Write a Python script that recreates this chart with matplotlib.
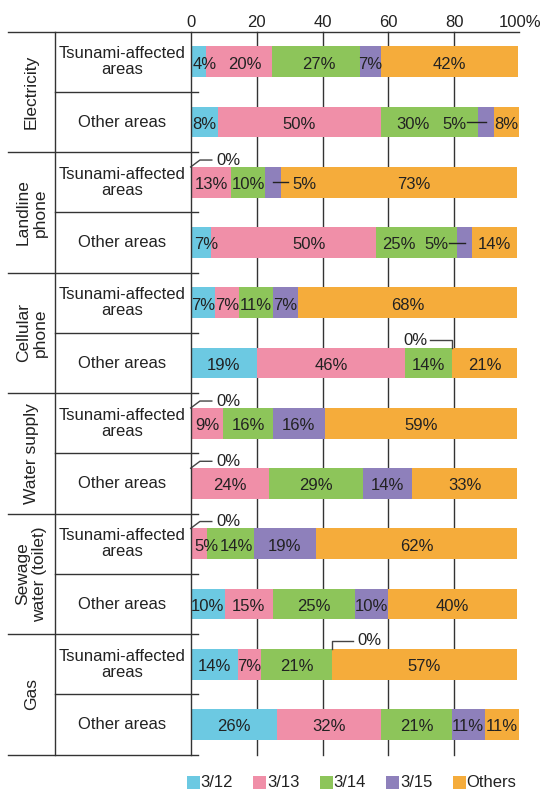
import matplotlib.pyplot as plt
import numpy as np
from matplotlib.patches import Rectangle

plt.rcParams['font.family'] = ['Liberation Sans', 'DejaVu Sans']

categories = ['Electricity', 'Landline\nphone', 'Cellular\nphone', 'Water supply', 'Sewage\nwater (toilet)', 'Gas']
areas = ['Tsunami-affected\nareas', 'Other areas']
series = ['3/12', '3/13', '3/14', '3/15', 'Others']

# segment widths (% of respondents), one row per bar
d312 = [4.5, 8.2, 0, 6.2, 7.4, 20.1, 0, 0, 0, 10.4, 14.3, 26.2]
d313 = [20.1, 49.5, 12.3, 50.0, 7.2, 44.9, 9.9, 23.7, 4.9, 14.5, 7.1, 31.7]
d314 = [26.7, 29.4, 10.2, 24.5, 10.3, 14.2, 15.0, 28.7, 14.3, 24.9, 21.4, 21.3]
d315 = [6.4, 4.8, 4.9, 4.8, 7.6, 0, 15.8, 14.7, 18.8, 10.0, 0, 10.0]
others = [41.6, 7.6, 71.7, 13.6, 66.6, 19.9, 58.4, 32.0, 61.1, 39.3, 56.3, 10.3]

# printed labels
l312 = [4, 8, 0, 7, 7, 19, 0, 0, 0, 10, 14, 26]
l313 = [20, 50, 13, 50, 7, 46, 9, 24, 5, 15, 7, 32]
l314 = [27, 30, 10, 25, 11, 14, 16, 29, 14, 25, 21, 21]
l315 = [7, 5, 5, 5, 7, 0, 16, 14, 19, 10, 0, 11]
lothers = [42, 8, 73, 14, 68, 21, 59, 33, 62, 40, 57, 11]

colors = ['#6cc9e2', '#f08fa8', '#8dc55a', '#8e80bb', '#f5ac3b']
txt = '#222222'
linec = '#333333'

vals = np.array([d312, d313, d314, d315, others])
labs = np.array([l312, l313, l314, l315, lothers])
n = vals.shape[1]
rows = np.arange(n)

W, H = 543, 791
fig = plt.figure(figsize=(W / 100, H / 100), dpi=100)
ax = fig.add_axes([190.7 / W, 1 - 754.7 / H, 329.5 / W, 723 / H])
ax.set_xlim(0, 100)
ax.set_ylim(n - 0.5, -0.5)
bh = 0.51

# grid lines behind bars
for g in [20, 40, 60, 80]:
    ax.plot([g, g], [-0.5, n - 0.5], color=linec, lw=1.0, zorder=1, clip_on=False)

left = np.zeros(n)
for j in range(5):
    ax.barh(rows, vals[j], left=left, height=bh, color=colors[j], lw=0, zorder=2)
    left += vals[j]
cum = np.vstack([np.zeros(n), np.cumsum(vals, axis=0)])

# label nudges (in %) where the original shifts labels off-center
nudge = {(0, 0): 2.1, (0, 1): 2.0, (0, 2): 0.8, (1, 2): -5.0, (2, 4): 4.5,
         (3, 0): 1.6, (3, 1): 4.8, (3, 2): -5.4, (8, 1): 2.4, (8, 2): 1.9}
# purple labels placed beside the bar: (offset of text centre, gap to line)
outside = {1: (-9.4, 3.8), 2: (9.5, 5.0), 3: (-8.5, 3.8)}

fs = 12
for i in range(n):
    for j in range(5):
        v = labs[j, i]
        if v == 0:
            continue
        cx = (cum[j, i] + cum[j + 1, i]) / 2
        if j == 3 and i in outside:
            off, gap = outside[i]
            tx = cx + off
            edge = tx - np.sign(off) * gap
            ax.plot([cx, edge], [i, i], color=txt, lw=1.0, zorder=3)
            ax.text(tx, i + 0.04, f'{v}%', ha='center', va='center', fontsize=fs, color=txt, zorder=4)
            continue
        cx += nudge.get((i, j), 0)
        ax.text(cx, i + 0.04, f'{v}%', ha='center', va='center', fontsize=fs, color=txt, zorder=4)

# leaders for 0% segments
lead = '#444444'
top = bh / 2
for i in range(n):
    if labs[0, i] == 0:
        ax.plot([0, 2.8, 6.4], [i - top, i - 0.37, i - 0.37], color=lead, lw=1.0, zorder=3, clip_on=False)
        ax.text(7.9, i - 0.37, '0%', ha='left', va='center', fontsize=fs, color=txt)
    if labs[3, i] == 0:
        x0 = cum[3, i]
        if i == 5:
            ax.plot([72.6, x0, x0], [i - 0.38, i - 0.38, i - top], color=lead, lw=1.0, zorder=3)
            ax.text(72.0, i - 0.38, '0%', ha='right', va='center', fontsize=fs, color=txt)
        else:
            ax.plot([x0, x0, x0 + 6.5], [i - top, i - 0.39, i - 0.39], color=lead, lw=1.0, zorder=3)
            ax.text(x0 + 7.7, i - 0.39, '0%', ha='left', va='center', fontsize=fs, color=txt)

# table lines on the left
xl, xm, xr = -55.4, -41.2, 2.1
ax.plot([xl, 99.5], [-0.5, -0.5], color=linec, lw=1.0, clip_on=False)
for k in range(len(categories)):
    yb = 2 * k + 1.5
    ax.plot([xl, xr], [yb, yb], color=linec, lw=1.0, clip_on=False)
    ax.plot([xm, xr], [2 * k + 0.5, 2 * k + 0.5], color=linec, lw=1.0, clip_on=False)
    ax.text(-48.3, 2 * k + 0.5, categories[k], rotation=90, ha='center', va='center',
            fontsize=12.5, color=txt, linespacing=1.15, multialignment='center')
for x in [xm, 0]:
    ax.plot([x, x], [-0.5, n - 0.5], color=linec, lw=1.0, clip_on=False, zorder=3)
for i in range(n):
    ax.text(-20.7, i, areas[i % 2], ha='center', va='center', fontsize=fs, color=txt,
            linespacing=1.1, multialignment='center')

for s in ax.spines.values():
    s.set_visible(False)
ax.set_yticks([])
ax.xaxis.tick_top()
ax.set_xticks([0, 20, 40, 60, 80, 100])
ax.set_xticklabels(['0', '20', '40', '60', '80', '100%'])
ax.tick_params(axis='x', length=0, pad=1.5, labelsize=fs, labelcolor=txt)

# legend
for k, name in enumerate(series):
    x0 = 186.7 + 66.5 * k
    fig.add_artist(Rectangle((x0 / W, 1 - 789 / H), 13 / W, 13 / H, transform=fig.transFigure,
                             color=colors[k], lw=0))
    fig.text((x0 + 14) / W, 1 - 782.5 / H, name, ha='left', va='center', fontsize=fs, color=txt)

fig.savefig('out.png', dpi=100)
